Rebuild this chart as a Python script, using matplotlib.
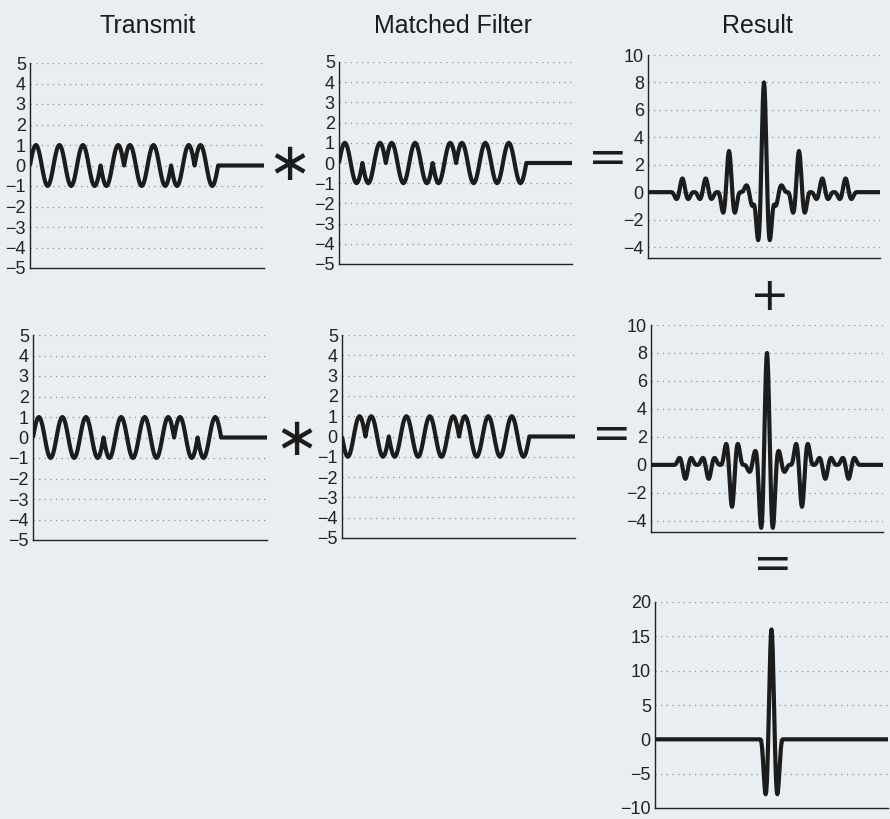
import numpy as np
import matplotlib
matplotlib.use('Agg')
import matplotlib.pyplot as plt

# ---- data ----
code_a = [1, 1, 1, -1, 1, 1, -1, 1]          # transmit 1 (chip signs)
code_b = [1, 1, 1, -1, -1, -1, 1, -1]        # transmit 2 (chip signs)
chip = [0, 0.31, 0.59, 0.81, 0.95, 1, 0.95, 0.81, 0.59, 0.31,
        0, -0.31, -0.59, -0.81, -0.95, -1, -0.95, -0.81, -0.59, -0.31]
pad_chips = 2
column_titles = ['Transmit', 'Matched Filter', 'Result']
wave_ticks = [-5, -4, -3, -2, -1, 0, 1, 2, 3, 4, 5]
result_ticks = [-4, -2, 0, 2, 4, 6, 8, 10]
sum_ticks = [-10, -5, 0, 5, 10, 15, 20]

BG = '#e9eef2'
FONT = ['Liberation Sans Narrow', 'Liberation Sans', 'DejaVu Sans']
plt.rcParams['font.family'] = FONT

W, H = 890, 819
fig = plt.figure(figsize=(W / 100, H / 100), dpi=100, facecolor=BG)


def waveform(code):
    body = np.kron(np.asarray(code, float), np.asarray(chip, float))
    return np.concatenate([body, np.zeros(pad_chips * len(chip))])


energy = float(np.sum(np.square(chip)))
tx_a = waveform(code_a)
mf_a = waveform(code_a[::-1])
tx_b = waveform(code_b)
mf_b = waveform(code_b[::-1])
res_a = np.convolve(tx_a, tx_a[::-1]) / energy
res_b = np.convolve(tx_b, tx_b[::-1]) / energy
res_sum = res_a + res_b


def make_ax(x0, x1, y0, y1):
    ax = fig.add_axes([x0 / W, 1 - y1 / H, (x1 - x0) / W, (y1 - y0) / H])
    ax.set_facecolor(BG)
    for s in ('top', 'right'):
        ax.spines[s].set_visible(False)
    for s in ('left', 'bottom'):
        ax.spines[s].set_linewidth(1.0)
        ax.spines[s].set_color('#222222')
    ax.set_xticks([])
    ax.tick_params(axis='y', length=0, pad=3, labelsize=13, colors='#222222')
    return ax


def draw(ax, y, ticks, ylim):
    ax.set_ylim(*ylim)
    ax.set_yticks(ticks)
    for t in ticks:
        if t > ylim[0]:
            ax.axhline(t, color='#8a8f95', linestyle=(0, (1, 3.5)), linewidth=0.9, zorder=1)
    x = np.arange(len(y))
    ax.plot(x, y, color='#1c1c1c', linewidth=3.0, solid_joinstyle='round',
            solid_capstyle='butt', zorder=3)
    ax.set_xlim(0, len(y) - 1)


draw(make_ax(30, 264, 63, 268), tx_a, wave_ticks, (-5, 5))
draw(make_ax(339, 572, 62, 264), mf_a, wave_ticks, (-5, 5))
draw(make_ax(648, 880, 55, 258), res_a, result_ticks, (-4.8, 10))
draw(make_ax(33, 267, 335, 540), tx_b, wave_ticks, (-5, 5))
draw(make_ax(342, 575, 335, 538), mf_b, wave_ticks, (-5, 5))
draw(make_ax(651, 883, 325, 532), res_b, result_ticks, (-4.8, 10))
draw(make_ax(655, 888, 602, 808), res_sum, sum_ticks, (-10, 20))


def ftext(x, y, s, size, **kw):
    fig.text(x / W, 1 - y / H, s, ha='center', va='center', fontsize=size,
             color='#1c1c1c', **kw)


for cx, t in zip([148, 453, 757], column_titles):
    ftext(cx, 26, t, 18)

ftext(289, 165, '∗', 38, family=['DejaVu Sans'])
ftext(296, 440, '∗', 38, family=['DejaVu Sans'])
ftext(608, 160, '=', 34, family=['DejaVu Sans'])
ftext(612, 435, '=', 34, family=['DejaVu Sans'])
ftext(770, 298, '+', 34, family=['DejaVu Sans'])
ftext(773, 566, '=', 34, family=['DejaVu Sans'])

fig.savefig('out.png', dpi=100, facecolor=BG)
